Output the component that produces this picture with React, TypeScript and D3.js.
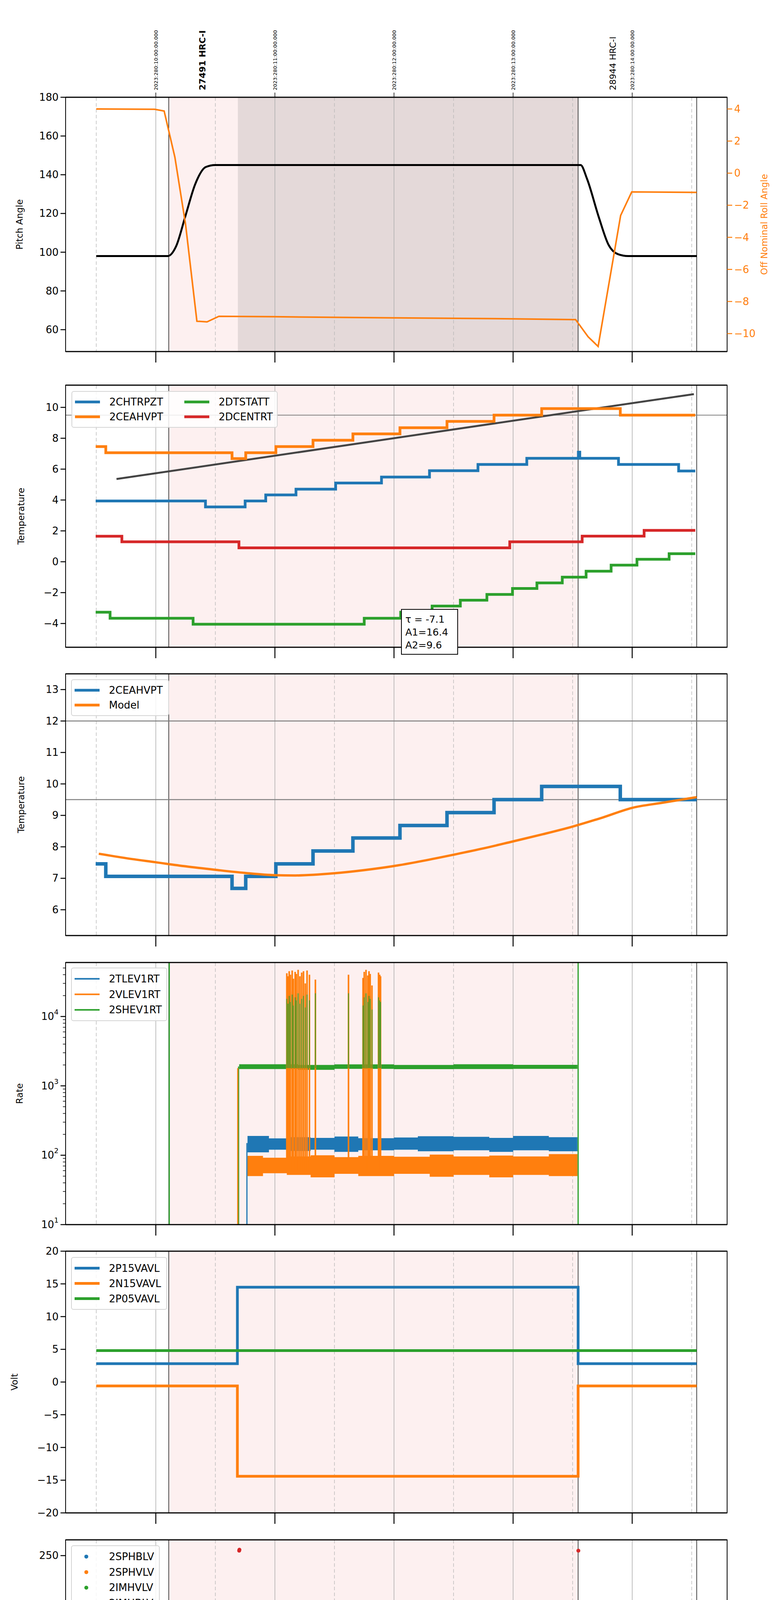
import * as d3 from 'd3'

// ---------- data (time in decimal hours of 2023-10-07) ----------
const obsStart = 6.109
const obsEnd = 9.546
const dwellStart = 6.689
const dataEnd = 10.542

const topLabelHours = [6, 7, 8, 9, 10]
const topLabelTexts = ['2023:280:10:00:00.000', '2023:280:11:00:00.000', '2023:280:12:00:00.000', '2023:280:13:00:00.000', '2023:280:14:00:00.000']
const obsLabels = [{ t: 6.39, text: '27491 HRC-I', bold: true }, { t: 9.835, text: '28944 HRC-I', bold: false }]

const pitch: [number, number][] = [[5.5, 98], [6.1, 98], [6.17, 103], [6.25, 119], [6.33, 135], [6.42, 144], [6.5, 145], [9.567, 145], [9.62, 138], [9.72, 118], [9.8, 104], [9.88, 99], [9.966, 98], [10.542, 98]]
const roll: [number, number][] = [[5.5, 4.0], [5.99, 3.98], [6.07, 3.87], [6.16, 1.0], [6.25, -3.2], [6.345, -9.23], [6.43, -9.27], [6.53, -8.92], [7.0, -8.95], [8.0, -9.02], [9.0, -9.08], [9.525, -9.13], [9.63, -10.2], [9.714, -10.8], [9.903, -2.64], [9.996, -1.17], [10.542, -1.2]]

const chtrpzt: [number, number][] = [[5.495, 3.94], [6.417, 3.55], [6.75, 3.94], [6.923, 4.33], [7.177, 4.7], [7.51, 5.1], [7.895, 5.49], [8.298, 5.9], [8.705, 6.3], [9.115, 6.7], [9.548, 7.1], [9.56, 6.7], [9.885, 6.3], [10.39, 5.88]]
const ceahvpt: [number, number][] = [[5.495, 7.46], [5.58, 7.06], [6.64, 6.68], [6.755, 7.06], [7.008, 7.46], [7.32, 7.87], [7.655, 8.28], [8.05, 8.68], [8.445, 9.09], [8.84, 9.5], [9.24, 9.92], [9.9, 9.5]]
const dtstatt: [number, number][] = [[5.495, -3.27], [5.616, -3.66], [6.313, -4.05], [7.75, -3.66], [8.056, -3.27], [8.32, -2.87], [8.557, -2.49], [8.78, -2.12], [8.995, -1.73], [9.2, -1.37], [9.413, -1.0], [9.613, -0.61], [9.823, -0.22], [10.04, 0.16], [10.31, 0.52]]
const dcentrt: [number, number][] = [[5.495, 1.65], [5.715, 1.29], [6.698, 0.9], [8.972, 1.29], [9.58, 1.66], [10.1, 2.03]]
const trendLine: [number, number][] = [[5.67, 5.36], [10.518, 10.86]]
const fitText = ['τ = -7.1', 'A1=16.4', 'A2=9.6']

const model: [number, number][] = [[5.521, 7.78], [5.75, 7.64], [6.0, 7.51], [6.25, 7.38], [6.5, 7.27], [6.75, 7.17], [7.0, 7.10], [7.172, 7.09], [7.5, 7.16], [7.75, 7.26], [8.0, 7.39], [8.25, 7.56], [8.5, 7.75], [8.75, 7.95], [8.996, 8.17], [9.25, 8.40], [9.496, 8.64], [9.75, 8.93], [10.0, 9.24], [10.25, 9.40], [10.542, 9.58]]

// event-rate noise envelopes [t, low, high]
const tlevBand: [number, number, number][] = [[6.77, 110, 190], [6.95, 120, 175], [7.1, 115, 182], [7.3, 120, 178], [7.5, 112, 186], [7.7, 118, 176], [8.0, 120, 180], [8.2, 114, 188], [8.5, 118, 184], [8.8, 112, 178], [9.0, 118, 190], [9.3, 114, 182], [9.54, 112, 188]]
const vlevBand: [number, number, number][] = [[6.77, 50, 98], [6.9, 55, 92], [7.1, 52, 96], [7.3, 48, 100], [7.5, 54, 94], [7.7, 50, 98], [8.0, 54, 95], [8.3, 49, 102], [8.5, 52, 96], [8.8, 48, 99], [9.0, 52, 96], [9.3, 50, 104], [9.54, 49, 100]]
const shevBand: [number, number, number][] = [[6.70, 1750, 2050], [7.2, 1700, 2000], [7.5, 1760, 2040], [8.0, 1740, 2000], [8.5, 1750, 2050], [9.0, 1760, 2010], [9.54, 1760, 2040]]
const shevJumps = [6.113, 9.546]

const spikeTimes = [7.10, 7.11, 7.12, 7.13, 7.145, 7.155, 7.17, 7.18, 7.195, 7.21, 7.225, 7.24, 7.255, 7.27, 7.29, 7.34, 7.618, 7.74, 7.75, 7.765, 7.78, 7.79, 7.80, 7.815, 7.87, 7.88, 7.887]
const vlevPeaks = [42000, 38000, 45000, 40000, 46000, 35000, 44000, 41000, 47000, 38000, 43000, 45000, 30000, 46000, 40000, 34000, 40000, 36000, 44000, 47000, 39000, 45000, 41000, 28000, 43000, 40000, 38000]
const shevPeaks = [20000, 17000, 22000, 18000, 23000, 16000, 21000, 19000, 24000, 17000, 20000, 22000, 15000, 23000, 19000, 24000, 24000, 16000, 21000, 24000, 18000, 22000, 20000, 14000, 21000, 19000, 18000]

const p15: [number, number][] = [[5.5, 2.8], [6.685, 14.5], [9.546, 2.8]]
const n15: [number, number][] = [[5.5, -0.6], [6.685, -14.4], [9.546, -0.6]]
const p05: [number, number][] = [[5.5, 4.8]]

const imhblvPts: [number, number][] = [[6.700, 255], [6.702, 256], [6.705, 126], [6.707, 125], [6.708, 119], [6.712, 106], [6.715, 104], [6.72, 100], [6.728, 97], [6.735, 93], [6.745, 89], [6.755, 87], [7.17, 79], [7.21, 79], [7.78, 79], [7.81, 79], [7.88, 79], [9.548, 255]]
const imhvlvPts: [number, number][] = [[6.705, 100], [6.715, 95], [6.728, 90], [6.74, 85], [6.755, 82], [6.765, 79], [7.168, 127], [7.77, 127], [7.785, 127], [7.81, 127], [7.87, 127], [7.89, 127]]
const imhblvRun: [number, number, number] = [6.76, 9.546, 86]
const imhvlvRun: [number, number, number] = [6.77, 9.546, 79]

const spinatm: [number, number][] = [[6.693, 3.7], [7.571, 4.17], [8.853, 4.6]]
const sphvatm: [number, number][] = [[6.693, 16.12], [6.912, 15.84], [7.19, 16.12], [7.697, 16.4], [8.105, 16.68], [8.487, 16.97], [8.845, 17.26], [9.197, 17.55]]
const iminatm: [number, number][] = [[6.693, 2.4], [9.105, 2.81]]
const imhvatm: [number, number][] = [[6.693, 15.57], [6.912, 15.84], [7.038, 16.12], [7.172, 16.4], [7.298, 16.68], [7.454, 16.97], [7.634, 17.26], [7.845, 17.55], [8.097, 17.84], [8.37, 18.14], [8.664, 18.43], [8.958, 18.72], [9.273, 19.0]]
const sphvLows = [10.3, 10.6, 10.4, 10.5, 10.4, 10.8, 10.5, 10.6, 10.4, 10.5, 10.8, 10.6, 10.8, 10.9, 10.8, 10.9, 11.1, 11.3, 11.3, 11.4, 11.3, 11.3, 11.4, 11.4, 11.3, 11.3, 11.4]

const fhtrmzt: [number, number][] = [[5.5, -8.0], [5.702, -8.39], [6.87, -8.0], [6.996, -7.57], [7.101, -7.18], [7.206, -6.77], [7.311, -6.38], [7.416, -5.94], [7.517, -5.57], [7.622, -5.17], [7.727, -4.8], [7.845, -4.4], [7.95, -4.03], [8.067, -3.63], [8.172, -3.27], [8.286, -2.88], [8.412, -2.5], [8.525, -2.12], [8.643, -1.76], [8.769, -1.36], [8.887, -1.0], [9.008, -0.61], [9.134, -0.23], [9.265, 0.14], [9.391, 0.51], [9.525, 0.9], [9.723, 1.27], [9.954, 0.9], [10.273, 0.51]]
const fradpyt: [number, number][] = [[7.038, -8.39], [7.139, -8.0], [7.244, -7.6], [7.349, -7.2], [7.454, -6.8], [7.55, -6.4], [7.664, -6.0], [7.769, -5.6], [7.874, -5.2], [7.992, -4.8], [8.105, -4.4], [8.223, -4.0], [8.34, -3.6], [8.462, -3.25], [8.58, -2.87], [8.714, -2.5], [8.84, -2.12], [8.966, -1.75], [9.105, -1.37], [9.231, -0.97], [9.378, -0.6], [9.517, -0.23], [9.916, -0.6], [9.996, -1.0], [10.101, -1.37], [10.206, -1.75], [10.357, -2.12], [10.533, -2.5]]
const fe00atm: [number, number][] = [[6.693, -6.35], [6.781, -5.96], [6.878, -5.6], [6.962, -5.25], [7.034, -4.9], [7.26, -3.85], [7.34, -3.47], [7.445, -3.1], [7.53, -2.75], [7.626, -2.42], [7.697, -2.1], [7.803, -1.76], [7.887, -1.43], [7.962, -1.12], [8.055, -0.78], [8.147, -0.45], [8.231, -0.14], [8.328, 0.16], [8.433, 0.49], [8.517, 0.82], [8.609, 1.14], [8.706, 1.45], [8.798, 1.76], [8.895, 2.06], [9.0, 2.37], [9.105, 2.67], [9.21, 2.98], [9.315, 3.3]]
const fepratm: [number, number][] = [[6.727, -7.0], [6.752, -6.6], [6.794, -6.2], [6.845, -5.8], [6.887, -5.45], [6.962, -5.0], [7.034, -4.65], [7.30, -3.45], [7.38, -3.05], [7.48, -2.65], [7.57, -2.3], [7.66, -2.2], [7.74, -1.9], [7.84, -1.52], [7.93, -1.2], [8.0, -0.95], [8.09, -0.6], [8.18, -0.2], [8.27, 0.1], [8.37, 0.2], [8.46, 0.6], [8.56, 1.0], [8.65, 1.3], [8.75, 1.5], [8.84, 1.9], [8.95, 2.3], [9.05, 2.45], [9.16, 2.78], [9.24, 3.3]]
const feSpikeLow = -4.65

// ---------- layout ----------
if (typeof document !== 'undefined') document.body.style.margin = '0'

const X0 = 168
const X1 = 1862
const T0 = 5.2426
const T1 = 10.797
const x = d3.scaleLinear().domain([T0, T1]).range([X0, X1])
const hours = [6, 7, 8, 9, 10]
const halfHours = [5.5, 6.5, 7.5, 8.5, 9.5, 10.5]
const FONT = 'DejaVu Sans, sans-serif'
const C = { blue: '#1f77b4', orange: '#ff7f0e', green: '#2ca02c', red: '#d62728' }
const minus = (v: number) => (v < 0 ? '\u2212' + Math.abs(v) : String(v))

type Y = d3.ScaleContinuousNumeric<number, number>

const Step = ({ pts, y, color, w = 7, end = dataEnd }: { pts: [number, number][], y: Y, color: string, w?: number, end?: number }) => {
  const all: [number, number][] = [...pts, [end, pts[pts.length - 1][1]]]
  const d = d3.line<[number, number]>().x(p => x(p[0])).y(p => y(p[1])).curve(d3.curveStepAfter)(all) || ''
  return <path d={d} fill="none" stroke={color} strokeWidth={w} />
}

const Legend = ({ x0, y0, items, cols = 1, colW = 0, w, h, dots = false, lw = 7 }: { x0: number, y0: number, items: [string, string][], cols?: number, colW?: number, w: number, h: number, dots?: boolean, lw?: number }) => {
  const rows = Math.ceil(items.length / cols)
  const rowH = (h - 16) / rows
  return (
    <g>
      <rect x={x0} y={y0} width={w} height={h} rx={5} fill="white" fillOpacity={0.85} stroke="#d5d5d5" strokeWidth={2} />
      {items.map(([label, color], i) => {
        const c = Math.floor(i / rows)
        const r = i % rows
        const lx = x0 + 8 + c * colW
        const ly = y0 + 8 + rowH * (r + 0.5)
        return (
          <g key={label}>
            {dots ? <circle cx={lx + 30} cy={ly} r={5} fill={color} />
              : <line x1={lx} x2={lx + 64} y1={ly} y2={ly} stroke={color} strokeWidth={lw} />}
            <text x={lx + 88} y={ly} dominantBaseline="central" fontSize={26} fontFamily={FONT}>{label}</text>
          </g>
        )
      })}
    </g>
  )
}

interface PanelProps {
  id: string
  top: number
  bottom: number
  y: Y
  ticks: number[]
  fmt?: (v: number) => React.ReactNode
  label: string
  labelX: number
  dwell?: boolean
  last?: boolean
  minorLog?: number[]
  children: React.ReactNode
  overlay?: React.ReactNode
}

const Panel = (p: PanelProps) => {
  const fmt = p.fmt || ((v: number) => minus(v))
  const mid = (p.top + p.bottom) / 2
  return (
    <g>
      <defs>
        <clipPath id={`clip-${p.id}`}>
          <rect x={X0} y={p.top} width={X1 - X0} height={p.bottom - p.top} />
        </clipPath>
      </defs>
      <rect x={x(obsStart)} y={p.top} width={x(obsEnd) - x(obsStart)} height={p.bottom - p.top} fill="#fdf0f0" />
      {p.dwell && <rect x={x(dwellStart)} y={p.top} width={x(obsEnd) - x(dwellStart)} height={p.bottom - p.top} fill="#e4d9d9" />}
      {hours.map(h => <line key={h} x1={x(h)} x2={x(h)} y1={p.top} y2={p.bottom} stroke="#b0b0b0" strokeWidth={1.6} />)}
      {halfHours.map(h => <line key={h} x1={x(h)} x2={x(h)} y1={p.top} y2={p.bottom} stroke="#b8b8b8" strokeWidth={1.4} strokeDasharray="9,6" />)}
      {[obsStart, obsEnd, dataEnd].map(t => <line key={t} x1={x(t)} x2={x(t)} y1={p.top} y2={p.bottom} stroke="black" strokeWidth={1.4} />)}
      <g clipPath={`url(#clip-${p.id})`}>{p.children}</g>
      <rect x={X0} y={p.top} width={X1 - X0} height={p.bottom - p.top} fill="none" stroke="black" strokeWidth={2} />
      <line x1={X0} x2={X1} y1={p.top} y2={p.top} stroke="black" strokeWidth={3} />
      <line x1={X0} x2={X1} y1={p.bottom} y2={p.bottom} stroke="black" strokeWidth={3} />
      {p.ticks.map(v => (
        <g key={v}>
          <line x1={X0 - 13} x2={X0} y1={p.y(v)} y2={p.y(v)} stroke="black" strokeWidth={2.5} />
          <text x={X0 - 18} y={p.y(v)} textAnchor="end" dominantBaseline="central" fontSize={26} fontFamily={FONT}>{fmt(v)}</text>
        </g>
      ))}
      {(p.minorLog || []).map(v => <line key={'m' + v} x1={X0 - 7} x2={X0} y1={p.y(v)} y2={p.y(v)} stroke="black" strokeWidth={1.5} />)}
      {hours.map(h => <line key={'t' + h} x1={x(h)} x2={x(h)} y1={p.bottom} y2={p.bottom + 28} stroke="black" strokeWidth={2.5} />)}
      {p.last && halfHours.map(h => <line key={'mt' + h} x1={x(h)} x2={x(h)} y1={p.bottom} y2={p.bottom + 10} stroke="black" strokeWidth={1.5} />)}
      {p.last && halfHours.map(h => <text key={'ml' + h} x={x(h)} y={p.bottom + 35} textAnchor="middle" fontSize={19} fontFamily={FONT}>30</text>)}
      {p.last && hours.map(h => <text key={'hl' + h} x={x(h)} y={p.bottom + 78} textAnchor="middle" fontSize={28} fontFamily={FONT}>{`${String(h).padStart(2, '0')}h`}</text>)}
      {p.last && <text x={x(8)} y={p.bottom + 112} textAnchor="middle" fontSize={30} fontFamily={FONT}>2023-10-07 (280)</text>}
      <text transform={`translate(${p.labelX},${mid}) rotate(-90)`} textAnchor="middle" fontSize={23} fontFamily={FONT}>{p.label}</text>
      {p.overlay}
    </g>
  )
}

const tops = [249, 986, 1725, 2464, 3203, 3942, 4681, 5420]
const bottoms = [900, 1657, 2395, 3135, 3873, 4613, 5351, 6090]

const App = () => {
  const y1 = d3.scaleLinear().domain([48.7, 180]).range([bottoms[0], tops[0]])
  const y1r = d3.scaleLinear().domain([-11.12, 4.73]).range([bottoms[0], tops[0]])
  const y2 = d3.scaleLinear().domain([-5.54, 11.44]).range([bottoms[1], tops[1]])
  const y3 = d3.scaleLinear().domain([5.18, 13.5]).range([bottoms[2], tops[2]])
  const y4 = d3.scaleLog().domain([10, 60000]).range([bottoms[3], tops[3]])
  const y5 = d3.scaleLinear().domain([-20, 20]).range([bottoms[4], tops[4]])
  const y6 = d3.scaleLinear().domain([0, 266]).range([bottoms[5], tops[5]])
  const y7 = d3.scaleLinear().domain([0.9, 19.9]).range([bottoms[6], tops[6]])
  const y8 = d3.scaleLinear().domain([-8.68, 3.22]).range([bottoms[7], tops[7]])

  const smooth = (pts: [number, number][], y: Y, curve = d3.curveMonotoneX) =>
    d3.line<[number, number]>().x(p => x(p[0])).y(p => y(p[1])).curve(curve)(pts) || ''
  const band = (pts: [number, number, number][]) =>
    d3.area<[number, number, number]>().x(p => x(p[0])).y0(p => y4(p[1])).y1(p => y4(p[2])).curve(d3.curveStepAfter)(pts) || ''
  const logMinor: number[] = []
  for (const dec of [10, 100, 1000, 10000]) for (let k = 2; k <= 9; k++) if (dec * k < 60000) logMinor.push(dec * k)
  const supFmt = (v: number) => <tspan>10<tspan dy={-12} fontSize={18}>{Math.round(Math.log10(v))}</tspan></tspan>
  const vt = (t: number, a: number, b: number, y: Y, color: string, w: number, key: string) =>
    <line key={key} x1={x(t)} x2={x(t)} y1={y(a)} y2={y(b)} stroke={color} strokeWidth={w} />

  const rollTicks = [-10, -8, -6, -4, -2, 0, 2, 4]

  return (
    <svg width={2000} height={6200} style={{ display: 'block', background: 'white' }}>
      <rect width={2000} height={6200} fill="white" />
      {/* panel 1 */}
      <Panel id="p1" top={tops[0]} bottom={bottoms[0]} y={y1} ticks={[60, 80, 100, 120, 140, 160, 180]} label="Pitch Angle" labelX={58} dwell
        overlay={
          <g>
            {rollTicks.map(v => (
              <g key={v}>
                <line x1={X1} x2={X1 + 13} y1={y1r(v)} y2={y1r(v)} stroke={C.orange} strokeWidth={2.5} />
                <text x={X1 + 18} y={y1r(v)} dominantBaseline="central" fontSize={26} fontFamily={FONT} fill={C.orange}>{minus(v)}</text>
              </g>
            ))}
            <text transform={`translate(1965,${(tops[0] + bottoms[0]) / 2}) rotate(-90)`} textAnchor="middle" fontSize={23} fontFamily={FONT} fill={C.orange}>Off Nominal Roll Angle</text>
            {topLabelHours.map((h, i) => (
              <g key={h}>
                <line x1={x(h)} x2={x(h)} y1={tops[0]} y2={tops[0] - 12} stroke="black" strokeWidth={1.5} />
                <text transform={`translate(${x(h) + 5},${tops[0] - 18}) rotate(-90)`} fontSize={13} fontFamily={FONT}>{topLabelTexts[i]}</text>
              </g>
            ))}
            {obsLabels.map(o => (
              <text key={o.text} transform={`translate(${x(o.t) + 8},${tops[0] - 18}) rotate(-90)`} fontSize={22} fontWeight={o.bold ? 'bold' : 'normal'} fontFamily={FONT}>{o.text}</text>
            ))}
          </g>
        }>
        <path d={smooth(pitch, y1)} fill="none" stroke="black" strokeWidth={5} />
        <path d={smooth(roll, y1r, d3.curveLinear)} fill="none" stroke={C.orange} strokeWidth={4} />
      </Panel>

      {/* panel 2 */}
      <Panel id="p2" top={tops[1]} bottom={bottoms[1]} y={y2} ticks={[-4, -2, 0, 2, 4, 6, 8, 10]} label="Temperature" labelX={62}
        overlay={
          <g>
            <Legend x0={184} y0={1002} w={526} h={92} cols={2} colW={280} items={[['2CHTRPZT', C.blue], ['2CEAHVPT', C.orange], ['2DTSTATT', C.green], ['2DCENTRT', C.red]]} />
            <rect x={1028} y={1560} width={144} height={115} fill="white" stroke="black" strokeWidth={2} />
            {fitText.map((s, i) => <text key={s} x={1038} y={1594 + i * 33} fontSize={25} fontFamily={FONT}>{s}</text>)}
          </g>
        }>
        <line x1={X0} x2={X1} y1={y2(9.5)} y2={y2(9.5)} stroke="#7f7f7f" strokeWidth={2} />
        <path d={smooth(trendLine, y2, d3.curveLinear)} fill="none" stroke="#444" strokeWidth={5} />
        <Step pts={chtrpzt} y={y2} color={C.blue} end={10.53} />
        <Step pts={ceahvpt} y={y2} color={C.orange} end={10.53} />
        <Step pts={dtstatt} y={y2} color={C.green} end={10.53} />
        <Step pts={dcentrt} y={y2} color={C.red} end={10.53} />
      </Panel>

      {/* panel 3 */}
      <Panel id="p3" top={tops[2]} bottom={bottoms[2]} y={y3} ticks={[6, 7, 8, 9, 10, 11, 12, 13]} label="Temperature" labelX={62}
        overlay={<Legend x0={183} y0={1740} w={249} h={92} items={[['2CEAHVPT', C.blue], ['Model', C.orange]]} />}>
        <line x1={X0} x2={X1} y1={y3(12)} y2={y3(12)} stroke="#7f7f7f" strokeWidth={2.5} />
        <line x1={X0} x2={X1} y1={y3(9.5)} y2={y3(9.5)} stroke="#7f7f7f" strokeWidth={2.5} />
        <Step pts={ceahvpt} y={y3} color={C.blue} w={9} />
        <path d={smooth(model, y3)} fill="none" stroke={C.orange} strokeWidth={6} />
      </Panel>

      {/* panel 4 */}
      <Panel id="p4" top={tops[3]} bottom={bottoms[3]} y={y4} ticks={[10, 100, 1000, 10000]} fmt={supFmt} minorLog={logMinor} label="Rate" labelX={58}
        overlay={<Legend x0={183} y0={2478} w={244} h={135} lw={4} items={[['2TLEV1RT', C.blue], ['2VLEV1RT', C.orange], ['2SHEV1RT', C.green]]} />}>
        {shevJumps.map((t, i) => vt(t, 1, 1e6, y4, C.green, 3, 'sj' + i))}
        {vt(6.695, 1, 1900, y4, C.green, 3, 'sr')}
        {vt(6.688, 1, 1800, y4, C.orange, 3, 'or')}
        {vt(6.765, 1, 150, y4, C.blue, 3, 'br')}
        <path d={band(shevBand)} fill={C.green} />
        {spikeTimes.map((t, i) => vt(t, 1800, shevPeaks[i], y4, C.green, 3, 'gs' + i))}
        <path d={band(tlevBand)} fill={C.blue} />
        <path d={band(vlevBand)} fill={C.orange} />
        {spikeTimes.map((t, i) => vt(t, 60, vlevPeaks[i], y4, C.orange, 4, 'os' + i))}
        {spikeTimes.map((t, i) => vt(t, 1800, shevPeaks[i] * 0.9, y4, C.green, 2, 'gs2' + i))}
      </Panel>

      {/* panel 5 */}
      <Panel id="p5" top={tops[4]} bottom={bottoms[4]} y={y5} ticks={[-20, -15, -10, -5, 0, 5, 10, 15, 20]} label="Volt" labelX={45}
        overlay={<Legend x0={183} y0={3219} w={244} h={133} items={[['2P15VAVL', C.blue], ['2N15VAVL', C.orange], ['2P05VAVL', C.green]]} />}>
        <Step pts={p15} y={y5} color={C.blue} />
        <Step pts={n15} y={y5} color={C.orange} />
        <Step pts={p05} y={y5} color={C.green} />
      </Panel>

      {/* panel 6 */}
      <Panel id="p6" top={tops[5]} bottom={bottoms[5]} y={y6} ticks={[0, 50, 100, 150, 200, 250]} label="HV Monitor" labelX={52}
        overlay={<Legend x0={183} y0={3957} w={225} h={175} dots items={[['2SPHBLV', C.blue], ['2SPHVLV', C.orange], ['2IMHVLV', C.green], ['2IMHBLV', C.red]]} />}>
        <line x1={x(imhblvRun[0])} x2={x(imhblvRun[1])} y1={y6(imhblvRun[2])} y2={y6(imhblvRun[2])} stroke={C.red} strokeWidth={10} strokeLinecap="round" />
        <line x1={x(imhvlvRun[0])} x2={x(imhvlvRun[1])} y1={y6(imhvlvRun[2])} y2={y6(imhvlvRun[2])} stroke={C.green} strokeWidth={10} strokeLinecap="round" />
        {imhvlvPts.map((p, i) => <circle key={'g' + i} cx={x(p[0])} cy={y6(p[1])} r={5} fill={C.green} />)}
        {imhblvPts.map((p, i) => <circle key={'r' + i} cx={x(p[0])} cy={y6(p[1])} r={5} fill={C.red} />)}
      </Panel>

      {/* panel 7 */}
      <Panel id="p7" top={tops[6]} bottom={bottoms[6]} y={y7} ticks={[2.5, 5, 7.5, 10, 12.5, 15, 17.5]} fmt={v => v.toFixed(1)} label="Detector Temp" labelX={52}
        overlay={<Legend x0={183} y0={4695} w={249} h={176} items={[['2SPINATM', C.blue], ['2SPHVATM', C.orange], ['2IMINATM', C.green], ['2IMHVATM', C.red]]} />}>
        {spikeTimes.map((t, i) => vt(t, -1, 3.7, y7, C.blue, 5, 'b' + i))}
        <Step pts={spinatm} y={y7} color={C.blue} end={9.525} />
        {spikeTimes.map((t, i) => vt(t, 2.4, 3.7, y7, C.green, 5, 'g' + i))}
        <Step pts={iminatm} y={y7} color={C.green} end={9.525} />
        {spikeTimes.map((t, i) => vt(t, sphvLows[i], 16.2, y7, C.orange, 5, 'o' + i))}
        <Step pts={sphvatm} y={y7} color={C.orange} end={9.525} />
        {vt(6.693, -1, 15.57, y7, C.red, 6, 'rs')}
        <Step pts={imhvatm} y={y7} color={C.red} end={9.546} />
        {vt(9.546, -1, 25, y7, C.red, 6, 're')}
      </Panel>

      {/* panel 8 */}
      <Panel id="p8" top={tops[7]} bottom={bottoms[7]} y={y8} ticks={[-8, -6, -4, -2, 0, 2]} label="FEA Temp" labelX={62} last
        overlay={<Legend x0={1596} y0={5900} w={250} h={177} items={[['2FHTRMZT', C.blue], ['2FRADPYT', C.orange], ['2FEPRATM', C.green], ['2FE00ATM', C.red]]} />}>
        {vt(6.857, -10, -8.0, y8, C.blue, 6, 'bd')}
        <Step pts={fhtrmzt} y={y8} color={C.blue} />
        {vt(7.038, -10, -8.39, y8, C.orange, 6, 'od')}
        <Step pts={fradpyt} y={y8} color={C.orange} />
        <Step pts={fepratm} y={y8} color={C.green} end={9.546} />
        {spikeTimes.map((t, i) => vt(t, feSpikeLow, -2.5, y8, C.green, 5, 'g' + i))}
        {vt(6.693, -10, -6.35, y8, C.red, 6, 'rs')}
        <Step pts={fe00atm} y={y8} color={C.red} end={9.546} />
        {spikeTimes.map((t, i) => vt(t, -4.9, 5, y8, C.red, 5, 'r' + i))}
        {vt(9.55, -10, 5, y8, C.red, 6, 're')}
      </Panel>
    </svg>
  )
}

export default App
